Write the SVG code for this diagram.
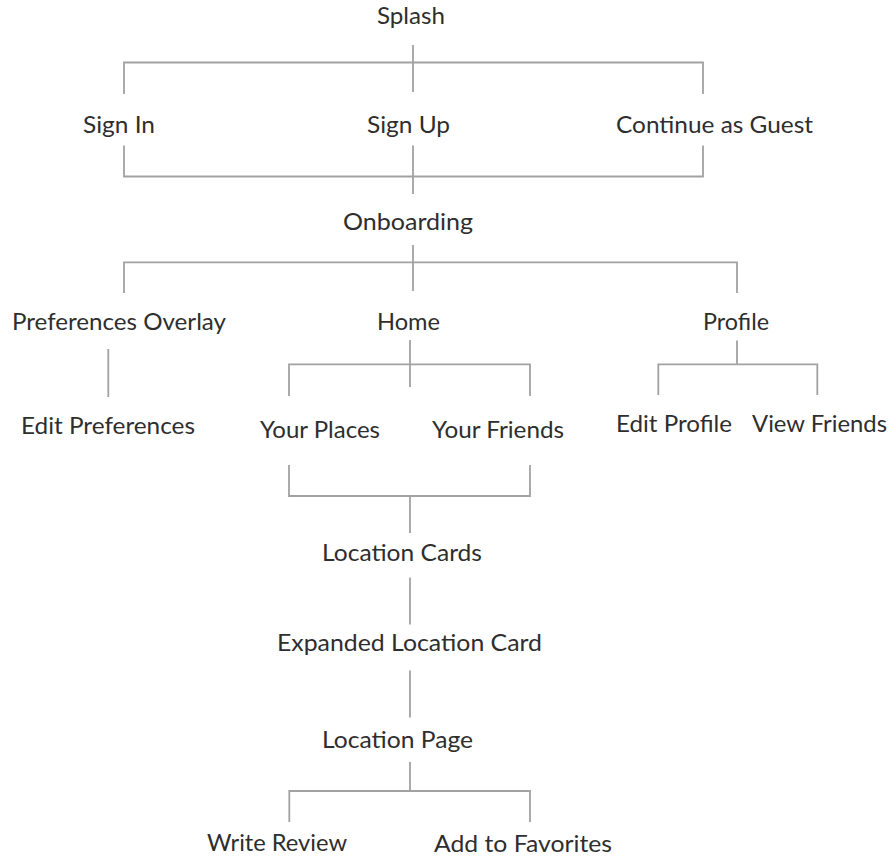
<svg xmlns="http://www.w3.org/2000/svg" width="894" height="858" viewBox="0 0 894 858">
<style>
.bg{fill:#ffffff}
.lbl{font-family:"Lato","Liberation Sans",sans-serif;font-size:22.5px;fill:#2e2e2e}
.c{fill:none;stroke:#a2a2a2;stroke-width:1.8}
</style>
<rect class="bg" x="0" y="0" width="894" height="858"/>
<g id="connectors">
<path class="c" d="M413 45V92M124 94V62.5H703V94"/>
<path class="c" d="M124 145.5V176.5H703V145.5M413 145.5V194"/>
<path class="c" d="M413 245V291M124 293V262.3H737V293"/>
<path class="c" d="M108.3 349V397"/>
<path class="c" d="M410 340V387M289 396V364.3H530V396"/>
<path class="c" d="M737 340.5V364.3M658.3 395V364.3H817.3V395"/>
<path class="c" d="M289 465V496H530V465M410 496V533"/>
<path class="c" d="M410 577.5V624.5"/>
<path class="c" d="M410 670.5V717.5"/>
<path class="c" d="M410 762V791M289.3 822V791H530V822"/>
</g>
<g id="splash"><text class="lbl" x="377" y="24" textLength="68" lengthAdjust="spacingAndGlyphs">Splash</text></g>
<g id="sign-in"><text class="lbl" x="83" y="133" textLength="72" lengthAdjust="spacingAndGlyphs">Sign In</text></g>
<g id="sign-up"><text class="lbl" x="367" y="133" textLength="83" lengthAdjust="spacingAndGlyphs">Sign Up</text></g>
<g id="guest"><text class="lbl" x="616" y="133" textLength="197" lengthAdjust="spacingAndGlyphs">Continue as Guest</text></g>
<g id="onboarding"><text class="lbl" x="343" y="230" textLength="130" lengthAdjust="spacingAndGlyphs">Onboarding</text></g>
<g id="preferences-overlay"><text class="lbl" x="12" y="330" textLength="214" lengthAdjust="spacingAndGlyphs">Preferences Overlay</text></g>
<g id="home"><text class="lbl" x="377" y="330" textLength="63" lengthAdjust="spacingAndGlyphs">Home</text></g>
<g id="profile"><text class="lbl" x="703" y="330" textLength="66" lengthAdjust="spacingAndGlyphs">Profile</text></g>
<g id="edit-preferences"><text class="lbl" x="21" y="434" textLength="174" lengthAdjust="spacingAndGlyphs">Edit Preferences</text></g>
<g id="your-places"><text class="lbl" x="260" y="438" textLength="120" lengthAdjust="spacingAndGlyphs">Your Places</text></g>
<g id="your-friends"><text class="lbl" x="432" y="438" textLength="132" lengthAdjust="spacingAndGlyphs">Your Friends</text></g>
<g id="edit-profile"><text class="lbl" x="616" y="432" textLength="116" lengthAdjust="spacingAndGlyphs">Edit Profile</text></g>
<g id="view-friends"><text class="lbl" x="752" y="432" textLength="135" lengthAdjust="spacingAndGlyphs">View Friends</text></g>
<g id="location-cards"><text class="lbl" x="322" y="561" textLength="160" lengthAdjust="spacingAndGlyphs">Location Cards</text></g>
<g id="expanded-location-card"><text class="lbl" x="277" y="651" textLength="265" lengthAdjust="spacingAndGlyphs">Expanded Location Card</text></g>
<g id="location-page"><text class="lbl" x="322" y="748" textLength="151" lengthAdjust="spacingAndGlyphs">Location Page</text></g>
<g id="write-review"><text class="lbl" x="207" y="851" textLength="140" lengthAdjust="spacingAndGlyphs">Write Review</text></g>
<g id="add-to-favorites"><text class="lbl" x="434" y="852" textLength="178" lengthAdjust="spacingAndGlyphs">Add to Favorites</text></g>
</svg>
